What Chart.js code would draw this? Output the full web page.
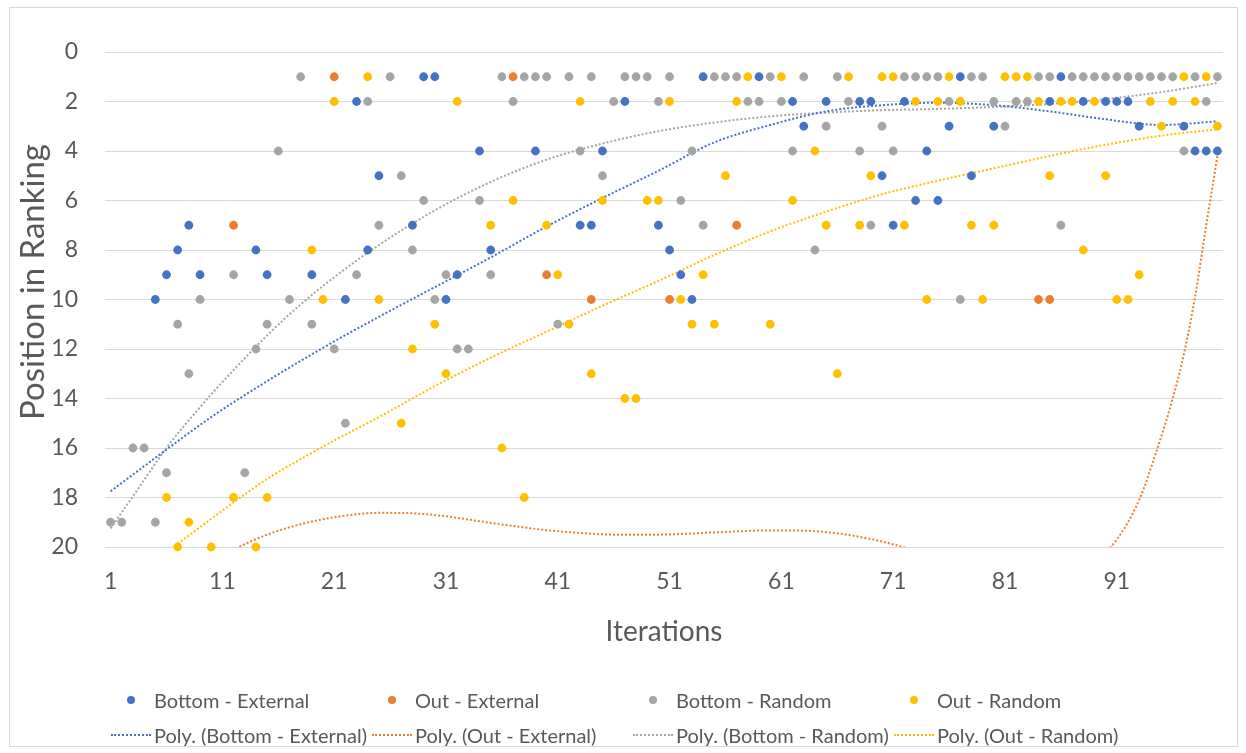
<!DOCTYPE html>
<html>
<head>
<meta charset="utf-8">
<script src="https://cdn.jsdelivr.net/npm/chart.js@4.4.1/dist/chart.umd.min.js"></script>
<style>
  html, body { margin: 0; padding: 0; background: #ffffff; }
  #wrap { position: relative; width: 1246px; height: 753px; overflow: hidden; font-family: Lato, "Open Sans", sans-serif; }
  #frame { position: absolute; left: 9px; top: 7px; width: 1229px; height: 740px; border: 1px solid #D9D9D9; box-sizing: border-box; pointer-events: none; }
  #chart { position: absolute; left: 0; top: 0; }
  #ytitle { position: absolute; left: 31px; top: 282px; transform: translate(-50%, -50%) rotate(-90deg); font-size: 33px; line-height: 1; color: #595959; white-space: nowrap; }
  #legend { position: absolute; left: 111px; top: 682px; display: grid; grid-template-columns: repeat(4, 261px); grid-auto-rows: 35px; }
  .item { display: flex; align-items: center; color: #595959; font-size: 20px; white-space: nowrap; }
  .sym { width: 40px; margin-right: 3px; display: flex; justify-content: center; align-items: center; }
  .dot { width: 8px; height: 8px; border-radius: 50%; }
  .line { width: 40px; height: 0; border-top: 2px dotted; }
</style>
</head>
<body>
<div id="wrap">
  <canvas id="chart" width="1246" height="753"></canvas>
  <div id="frame"></div>
  <div id="ytitle">Position in Ranking</div>
  <div id="legend"></div>
</div>
<script>
// Iterations 1..100 (category values on the x axis)
const iterations = [
  1, 2, 3, 4, 5, 6, 7, 8, 9, 10, 11, 12, 13, 14, 15, 16, 17, 18, 19, 20,
  21, 22, 23, 24, 25, 26, 27, 28, 29, 30, 31, 32, 33, 34, 35, 36, 37, 38, 39, 40,
  41, 42, 43, 44, 45, 46, 47, 48, 49, 50, 51, 52, 53, 54, 55, 56, 57, 58, 59, 60,
  61, 62, 63, 64, 65, 66, 67, 68, 69, 70, 71, 72, 73, 74, 75, 76, 77, 78, 79, 80,
  81, 82, 83, 84, 85, 86, 87, 88, 89, 90, 91, 92, 93, 94, 95, 96, 97, 98, 99, 100
];
const xTickLabels = [1, 11, 21, 31, 41, 51, 61, 71, 81, 91];
const yTickLabels = [0, 2, 4, 6, 8, 10, 12, 14, 16, 18, 20];

// Ranking position per iteration (null = outside the top 20)
const bottomExternal = [
  null, null, null, null, 10, 9, 8, 7, 9, null, null, null, null, 8, 9, null, null, null, 9, null,
  null, 10, 2, 8, 5, null, null, 7, 1, 1, 10, 9, null, 4, 8, null, null, null, 4, null,
  null, null, 7, 7, 4, null, 2, null, null, 7, 8, 9, 10, 1, null, null, null, null, 1, null,
  null, 2, 3, null, 2, null, null, 2, 2, 5, 7, 2, 6, 4, 6, 3, 1, 5, null, 3,
  null, null, null, null, 2, 1, null, 2, null, 2, 2, 2, 3, null, null, null, 3, 4, 4, 4
];
const outExternal = [
  null, null, null, null, null, null, null, null, null, null, null, 7, null, null, null, null, null, null, null, null,
  1, null, null, null, null, null, null, null, null, null, null, null, null, null, null, null, 1, null, null, 9,
  null, null, null, 10, null, null, null, null, null, null, 10, null, null, null, null, null, 7, null, null, null,
  null, null, null, null, null, null, null, null, null, null, null, null, null, null, null, null, null, null, null, null,
  null, null, null, 10, 10, null, null, null, null, null, null, null, null, null, null, null, null, null, null, null
];
const bottomRandom = [
  19, 19, 16, 16, 19, 17, 11, 13, 10, null, null, 9, 17, 12, 11, 4, 10, 1, 11, null,
  12, 15, 9, 2, 7, 1, 5, 8, 6, 10, 9, 12, 12, 6, 9, 1, 2, 1, 1, 1,
  11, 1, 4, 1, 5, 2, 1, 1, 1, 2, 1, 6, 4, 7, 1, 1, 1, 2, 2, 1,
  2, 4, 1, 8, 3, 1, 2, 4, 7, 3, 4, 1, 1, 1, 1, 2, 10, 1, 1, 2,
  3, 2, 2, 1, 1, 7, 1, 1, 1, 1, 1, 1, 1, 1, 1, 1, 4, 1, 2, 1
];
const outRandom = [
  null, null, null, null, null, 18, 20, 19, null, 20, null, 18, null, 20, 18, null, null, null, 8, 10,
  2, null, null, 1, 10, null, 15, 12, null, 11, 13, 2, null, null, 7, 16, 6, 18, null, 7,
  9, 11, 2, 13, 6, null, 14, 14, 6, 6, 2, 10, 11, 9, 11, 5, 2, 1, null, 11,
  1, 6, null, 4, 7, 13, 1, 7, 5, 1, 1, 7, 2, 10, 2, 1, 2, 7, 10, 7,
  1, 1, 1, 2, 5, 2, 2, 8, 2, 5, 10, 10, 9, 2, 3, 2, 1, 2, 1, 3
];

// Polynomial trend curves, sampled as [iteration, position]
const trendBottomExternal = [
  [1, 17.75], [5, 16.4], [10, 14.75], [15, 13.3], [20, 11.95], [25, 10.7], [30, 9.5], [35, 8.3],
  [40, 7.05], [45, 5.9], [50, 4.8], [55, 3.65], [60, 2.95], [65, 2.4], [70, 2.15], [75, 2.05],
  [80, 2.15], [85, 2.4], [90, 2.72], [95, 2.95], [100, 2.8]
];
const trendOutExternal = [
  [1, 23.5], [5, 22.0], [9, 20.8], [12, 20.1], [15, 19.5], [18, 19.08], [21, 18.8], [25, 18.62],
  [28, 18.64], [31, 18.76], [34, 18.96], [37, 19.15], [40, 19.32], [43, 19.43], [46, 19.5], [50, 19.5],
  [55, 19.41], [60, 19.33], [63, 19.34], [66, 19.45], [69, 19.68], [72, 20.02], [76, 20.6], [80, 21.1],
  [84, 21.3], [87, 21.1], [89, 20.6], [91, 19.7], [93, 18.1], [94.5, 16.2], [96, 14.0], [97, 12.2],
  [98, 9.9], [99, 7.0], [99.5, 5.6], [100, 4.2]
];
const trendBottomRandom = [
  [1, 19.25], [3, 17.95], [6, 16.0], [9, 14.35], [12, 12.85], [15, 11.45], [18, 10.2], [21, 9.1],
  [25, 7.8], [30, 6.4], [35, 5.25], [40, 4.35], [45, 3.7], [50, 3.2], [55, 2.85], [60, 2.6],
  [65, 2.45], [70, 2.35], [75, 2.3], [80, 2.22], [85, 2.1], [90, 1.9], [95, 1.62], [100, 1.25]
];
const trendOutRandom = [
  [1, 22.4], [5, 20.6], [9, 19.2], [12, 18.2], [15, 17.25], [18, 16.45], [21, 15.7], [25, 14.75],
  [30, 13.5], [35, 12.35], [40, 11.3], [45, 10.25], [50, 9.25], [55, 8.2], [60, 7.25], [65, 6.45],
  [70, 5.75], [75, 5.2], [80, 4.7], [85, 4.2], [90, 3.75], [95, 3.38], [100, 3.12]
];

const COLORS = { blue: '#4472C4', orange: '#ED7D31', grey: '#A5A5A5', yellow: '#FFC000' };
const TEXT = '#595959';
const FONT = 'Lato, "Open Sans", sans-serif';

function points(values) {
  const out = [];
  values.forEach((v, k) => { if (v !== null) out.push({ x: iterations[k], y: v }); });
  return out;
}
function curve(samples) {
  return samples.map(([x, y]) => ({ x, y }));
}
function markerSet(label, values, color) {
  return {
    type: 'scatter', label, data: points(values),
    backgroundColor: color, borderColor: color,
    pointRadius: 4.4, pointBorderWidth: 0, pointHoverRadius: 4.4,
    clip: false, order: 0, symbol: 'dot'
  };
}
function trendSet(label, samples, color) {
  return {
    type: 'line', label, data: curve(samples),
    borderColor: color, backgroundColor: color, borderWidth: 2,
    borderDash: [2, 2], borderCapStyle: 'butt',
    pointRadius: 0, fill: false, cubicInterpolationMode: 'monotone',
    order: 1, symbol: 'line'
  };
}

const datasets = [
  markerSet('Bottom - External', bottomExternal, COLORS.blue),
  markerSet('Out - External', outExternal, COLORS.orange),
  markerSet('Bottom - Random', bottomRandom, COLORS.grey),
  markerSet('Out - Random', outRandom, COLORS.yellow),
  trendSet('Poly. (Bottom - External)', trendBottomExternal, COLORS.blue),
  trendSet('Poly. (Out - External)', trendOutExternal, COLORS.orange),
  trendSet('Poly. (Bottom - Random)', trendBottomRandom, COLORS.grey),
  trendSet('Poly. (Out - Random)', trendOutRandom, COLORS.yellow)
];

const chart = new Chart(document.getElementById('chart'), {
  type: 'scatter',
  data: { datasets },
  options: {
    responsive: false,
    animation: false,
    events: [],
    layout: { padding: { left: 17, top: 52, right: 23, bottom: 104 } },
    plugins: { legend: { display: false }, tooltip: { enabled: false } },
    scales: {
      x: {
        type: 'linear', min: 0.5, max: 100.5,
        afterBuildTicks: (s) => { s.ticks = xTickLabels.map(v => ({ value: v })); },
        afterFit: (s) => { s.height = 102; },
        grid: { display: false, drawTicks: false },
        border: { display: true, color: '#D9D9D9', width: 1 },
        ticks: { color: TEXT, font: { family: FONT, size: 23 }, padding: 21, maxRotation: 0, autoSkip: false },
        title: { display: true, text: 'Iterations', color: TEXT, font: { family: FONT, size: 28 }, padding: 0 }
      },
      y: {
        type: 'linear', reverse: true, min: 0, max: 20,
        afterBuildTicks: (s) => { s.ticks = yTickLabels.map(v => ({ value: v })); },
        afterFit: (s) => { s.width = 88; },
        grid: { color: '#D9D9D9', lineWidth: 1, drawTicks: false },
        border: { display: false },
        ticks: { color: TEXT, font: { family: FONT, size: 23 }, padding: 27 }
      }
    }
  }
});

// Legend: markers in the first row, trend curves in the second
const legend = document.getElementById('legend');
chart.data.datasets.forEach((ds) => {
  const item = document.createElement('div');
  item.className = 'item';
  const sym = document.createElement('div');
  sym.className = 'sym';
  const mark = document.createElement('div');
  if (ds.symbol === 'dot') { mark.className = 'dot'; mark.style.background = ds.backgroundColor; }
  else { mark.className = 'line'; mark.style.borderTopColor = ds.borderColor; }
  sym.appendChild(mark);
  const text = document.createElement('span');
  text.textContent = ds.label;
  item.appendChild(sym);
  item.appendChild(text);
  legend.appendChild(item);
});
</script>
</body>
</html>
